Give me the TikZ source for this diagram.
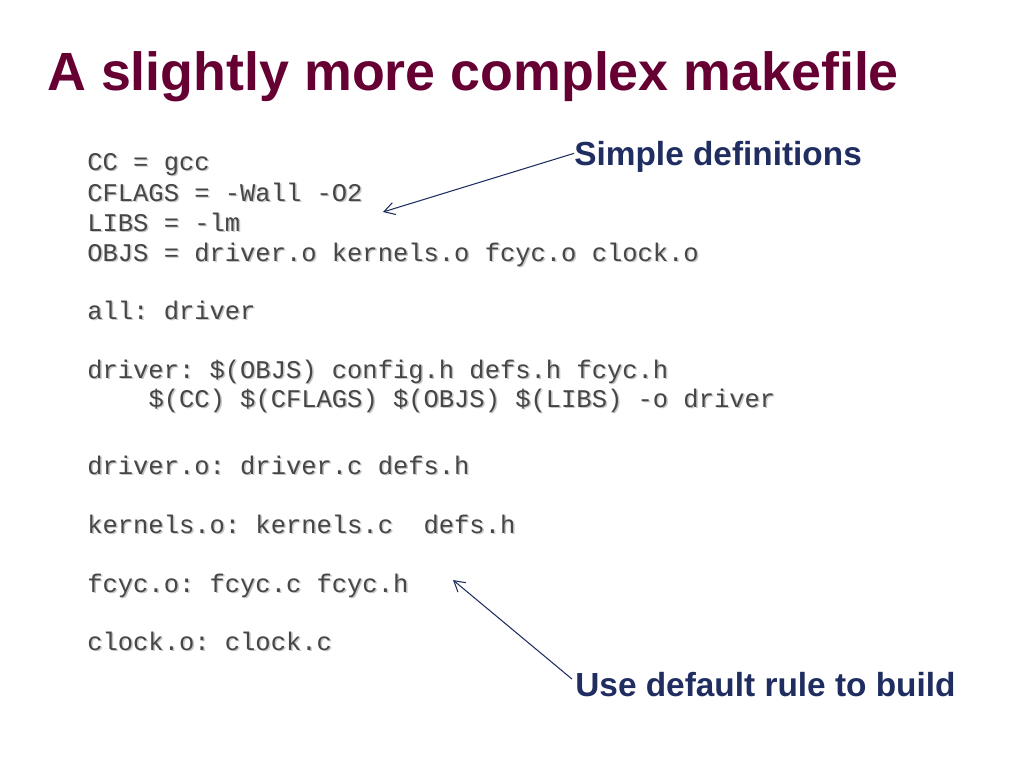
\documentclass[tikz,border=0pt]{standalone}
\usepackage{fontspec}
\setmainfont{Liberation Sans}
\setmonofont{Liberation Mono}
\usetikzlibrary{arrows.meta, positioning}
\definecolor{titleMaroon}{RGB}{102, 0, 51}
\definecolor{noteNavy}{RGB}{31, 45, 96}
\definecolor{codeGray}{RGB}{70, 70, 70}

\begin{document}
\begin{tikzpicture}[
    x=0.02cm, y=-0.02cm,
    % Code line style
    codeline/.style={
        anchor=base west,
        inner sep=0pt,
        font=\fontsize{14.5pt}{16pt}\ttfamily,
        text=codeGray
    },
    % Shadow of a code line
    codeshadow/.style={
        codeline,
        text=black!22
    },
    % Annotation style
    note/.style={
        anchor=base west,
        inner sep=0pt,
        font=\fontsize{19pt}{22pt}\bfseries,
        text=noteNavy
    },
    % Arrow style
    pointer/.style={
        -{Straight Barb[length=6pt,width=7pt]},
        line width=0.6pt,
        draw=noteNavy
    }
]
\useasboundingbox (0,0) rectangle (1024,768);

% Title
\node[anchor=base west, inner sep=0pt, font=\fontsize{30.6pt}{36pt}\bfseries,
      text=titleMaroon] (title) at (47,90) {A slightly more complex makefile};

% ============================================
% MAKEFILE LINES
% ============================================
\foreach \y/\txt [count=\i] in {
    170/{CC = gcc},
    201/{CFLAGS = -Wall -O2},
    231/{LIBS = -lm},
    261/{OBJS = driver.o kernels.o fcyc.o clock.o},
    319/{all: driver},
    378/{driver: \$(OBJS) config.h defs.h fcyc.h},
    407/{\ \ \ \ \$(CC) \$(CFLAGS) \$(OBJS) \$(LIBS) -o driver},
    474/{driver.o: driver.c defs.h},
    533/{kernels.o: kernels.c\ \ defs.h},
    592/{fcyc.o: fcyc.c fcyc.h},
    650/{clock.o: clock.c}} {
    \node[codeshadow] at (88.5,\y+1.5) {\txt};
    \node[codeline] (line\i) at (87,\y) {\txt};
}

% ============================================
% ANNOTATIONS
% ============================================
\node[note] (simple) at (574,165) {Simple definitions};
\node[note] (default) at (575,696) {Use default rule to build};

\coordinate (cflagsEnd) at (383,212);
\coordinate (fcycEnd) at (453,580);

\draw[pointer] (simple.west) ++(0,-3) -- (cflagsEnd);
\draw[pointer] (default.west) ++(-3,-5) -- (fcycEnd);

\end{tikzpicture}
\end{document}
